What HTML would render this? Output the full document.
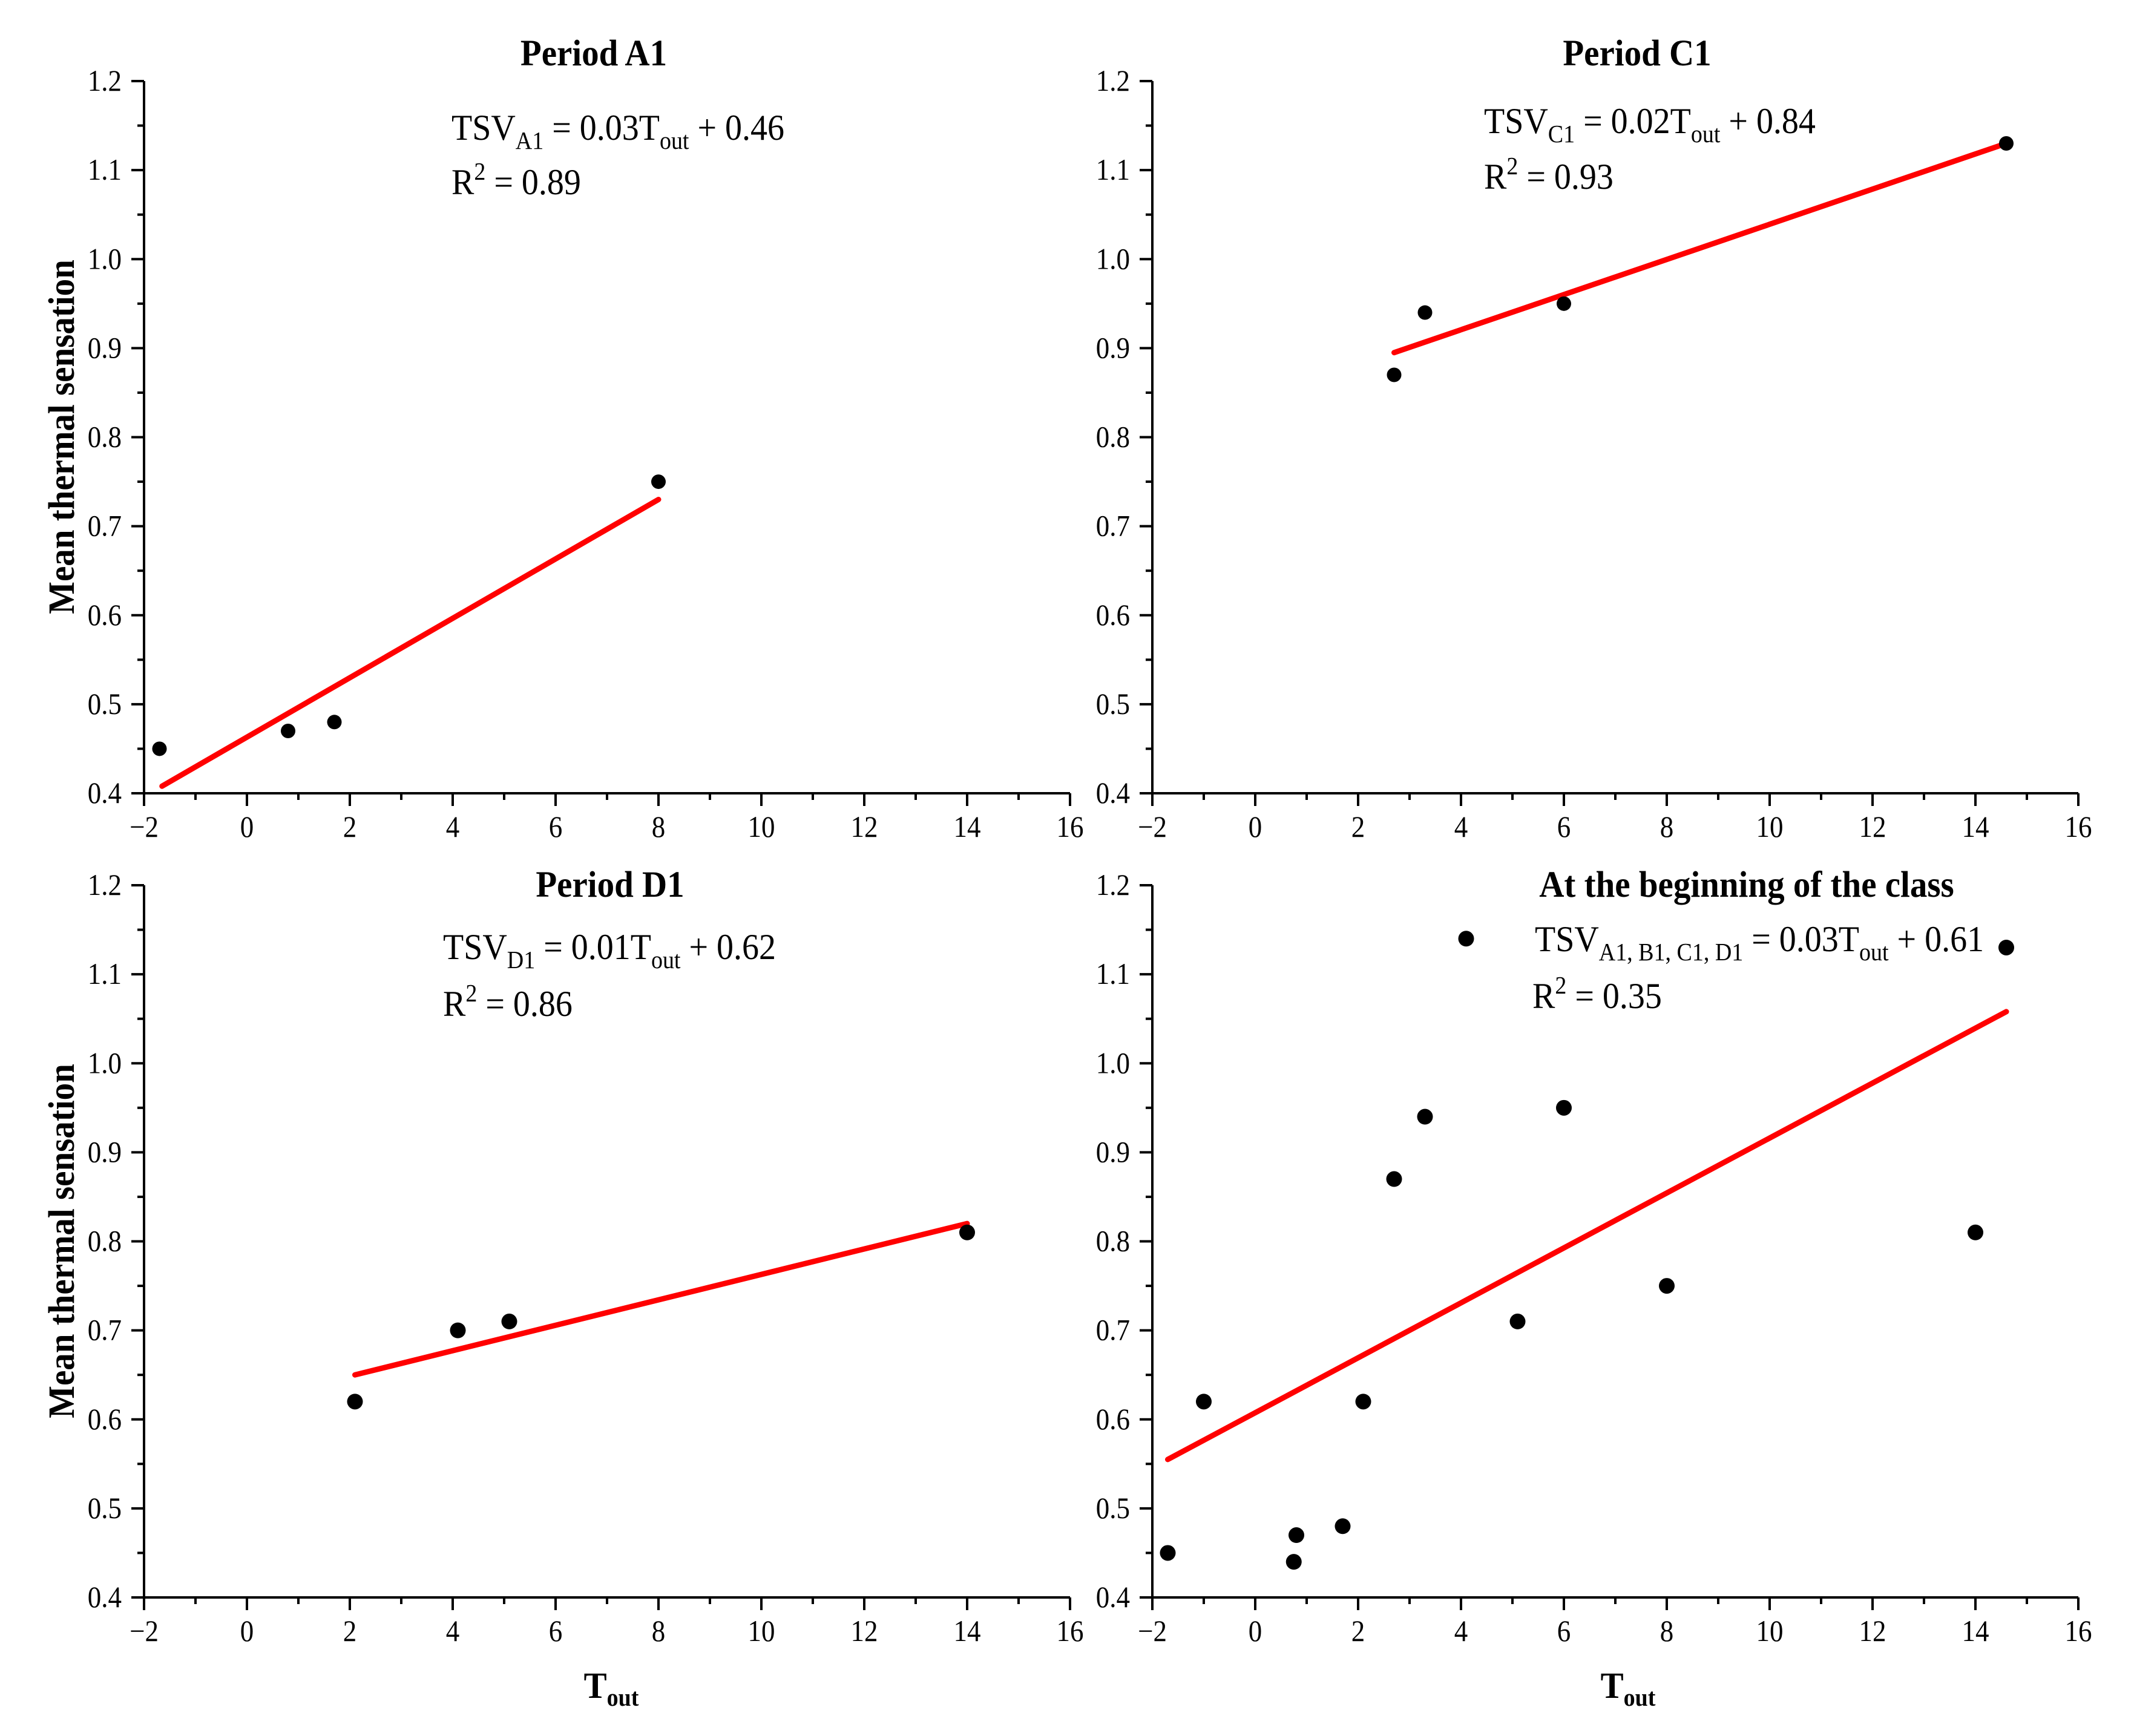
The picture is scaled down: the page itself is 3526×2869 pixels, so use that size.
<!DOCTYPE html>
<html><head><meta charset="utf-8"><style>
html,body{margin:0;padding:0;background:#fff;}
svg{display:block;font-family:"Liberation Serif",serif;}
</style></head><body>
<svg id="chart" width="3526" height="2869" viewBox="0 0 3526 2869" xmlns="http://www.w3.org/2000/svg">
<rect width="3526" height="2869" fill="#fff"/>
<g font-size="57" font-weight="bold" text-anchor="middle">
<text transform="translate(981,108) scale(1,1.08)">Period A1</text>
<text transform="translate(2705,108) scale(1,1.08)">Period C1</text>
<text transform="translate(1008,1482) scale(1,1.08)">Period D1</text>
<text transform="translate(2886,1482) scale(1,1.08)">At the beginning of the class</text>
<text transform="translate(122,722) rotate(-90) scale(1,1.08)">Mean thermal sensation</text>
<text transform="translate(122,2051) rotate(-90) scale(1,1.08)">Mean thermal sensation</text>
<text transform="translate(1010,2806) scale(1,1.08)">T<tspan font-size="38" dy="12">out</tspan></text>
<text transform="translate(2690,2806) scale(1,1.08)">T<tspan font-size="38" dy="12">out</tspan></text>
</g>
<g font-size="56">
<text transform="translate(746,231) scale(1,1.08)">TSV<tspan font-size="38" dy="14">A1</tspan><tspan dy="-14"> = 0.03T</tspan><tspan font-size="38" dy="14">out</tspan><tspan dy="-14"> + 0.46</tspan></text>
<text transform="translate(746,321) scale(1,1.08)">R<tspan font-size="38" dy="-22">2</tspan><tspan dy="22"> = 0.89</tspan></text>
<text transform="translate(2452,220) scale(1,1.08)">TSV<tspan font-size="38" dy="14">C1</tspan><tspan dy="-14"> = 0.02T</tspan><tspan font-size="38" dy="14">out</tspan><tspan dy="-14"> + 0.84</tspan></text>
<text transform="translate(2452,312) scale(1,1.08)">R<tspan font-size="38" dy="-22">2</tspan><tspan dy="22"> = 0.93</tspan></text>
<text transform="translate(732,1585) scale(1,1.08)">TSV<tspan font-size="38" dy="14">D1</tspan><tspan dy="-14"> = 0.01T</tspan><tspan font-size="38" dy="14">out</tspan><tspan dy="-14"> + 0.62</tspan></text>
<text transform="translate(732,1679) scale(1,1.08)">R<tspan font-size="38" dy="-22">2</tspan><tspan dy="22"> = 0.86</tspan></text>
<text transform="translate(2536,1572) scale(1,1.08)">TSV<tspan font-size="38" dy="14">A1, B1, C1, D1</tspan><tspan dy="-14"> = 0.03T</tspan><tspan font-size="38" dy="14">out</tspan><tspan dy="-14"> + 0.61</tspan></text>
<text transform="translate(2532,1666) scale(1,1.08)">R<tspan font-size="38" dy="-22">2</tspan><tspan dy="22"> = 0.35</tspan></text>
</g>
<g id="plots"></g>
</svg>
<script>
// Data
const xTicks = [-2,0,2,4,6,8,10,12,14,16];
const yTicks = [0.4,0.5,0.6,0.7,0.8,0.9,1.0,1.1,1.2];
const a1X = [-1.7,0.8,1.7,8];
const a1Y = [0.45,0.47,0.48,0.75];
const a1LineX = [-1.65,8];
const a1LineY = [0.408,0.73];
const c1X = [2.7,3.3,6,14.6];
const c1Y = [0.87,0.94,0.95,1.13];
const c1LineX = [2.7,14.6];
const c1LineY = [0.895,1.13];
const d1X = [2.1,4.1,5.1,14];
const d1Y = [0.62,0.70,0.71,0.81];
const d1LineX = [2.1,14];
const d1LineY = [0.65,0.82];
const allX = [-1.7,-1,0.75,0.8,1.7,2.1,2.7,3.3,4.1,5.1,6,8,14,14.6];
const allY = [0.45,0.62,0.44,0.47,0.48,0.62,0.87,0.94,1.14,0.71,0.95,0.75,0.81,1.13];
const allLineX = [-1.7,14.6];
const allLineY = [0.555,1.058];

const NS = "http://www.w3.org/2000/svg";
const root = document.getElementById('plots');
function mk(tag, attrs, parent){const e=document.createElementNS(NS,tag);for(const k in attrs)e.setAttribute(k,attrs[k]);parent.appendChild(e);return e;}

function panel(name, x0, yTop, yBot, px, py, lx, ly, r){
  const W = 1530;
  const sx = v => x0 + (v + 2) / 18 * W;
  const sy = v => yBot - (v - 0.4) / 0.8 * (yBot - yTop);
  const g = mk('g', {}, root);
  
  
  const ax = mk('g', {stroke:'#000','stroke-width':4}, g);
  
  
  mk('line', {x1:x0, y1:yTop, x2:x0, y2:yBot+2}, ax);
  mk('line', {x1:x0-2, y1:yBot, x2:x0+W, y2:yBot}, ax);
  for (let v = -2; v <= 16; v++) {
    const len = (v % 2 === 0) ? 21 : 11;
    mk('line', {x1:sx(v), y1:yBot, x2:sx(v), y2:yBot+len}, ax);
  }
  for (let i = 0; i <= 16; i++) {
    const v = 0.4 + i * 0.05;
    const len = (i % 2 === 0) ? 21 : 11;
    mk('line', {x1:x0, y1:sy(v), x2:x0-len, y2:sy(v)}, ax);
  }
  xTicks.forEach(v => {
    const t = mk('text', {transform:'translate(' + sx(v) + ',' + (yBot+72) + ') scale(1,1.1)', 'font-size':45, 'text-anchor':'middle'}, g);
    
    
    t.textContent = v < 0 ? '\u2212' + (-v) : String(v);
  });
  yTicks.forEach(v => {
    const t = mk('text', {transform:'translate(' + (x0-37) + ',' + (sy(v)+16) + ') scale(1,1.1)', 'font-size':45, 'text-anchor':'end'}, g);
    
    
    t.textContent = v.toFixed(1);
  });
  const ln = mk('line', {x1:sx(lx[0]), y1:sy(ly[0]), x2:sx(lx[1]), y2:sy(ly[1]), stroke:'#ff0000', 'stroke-width':9, 'stroke-linecap':'round'}, g);
  
  
  px.forEach((v, i) => {
    const c = mk('circle', {cx:sx(v), cy:sy(py[i]), r:r, fill:'#000'}, g);
    
    
  });
}
panel('period-a1', 238, 134, 1311, a1X, a1Y, a1LineX, a1LineY, 12);
panel('period-c1', 1904, 134, 1311, c1X, c1Y, c1LineX, c1LineY, 12);
panel('period-d1', 238, 1463, 2640, d1X, d1Y, d1LineX, d1LineY, 13);
panel('beginning-all', 1904, 1463, 2640, allX, allY, allLineX, allLineY, 13);
</script>
</body></html>
